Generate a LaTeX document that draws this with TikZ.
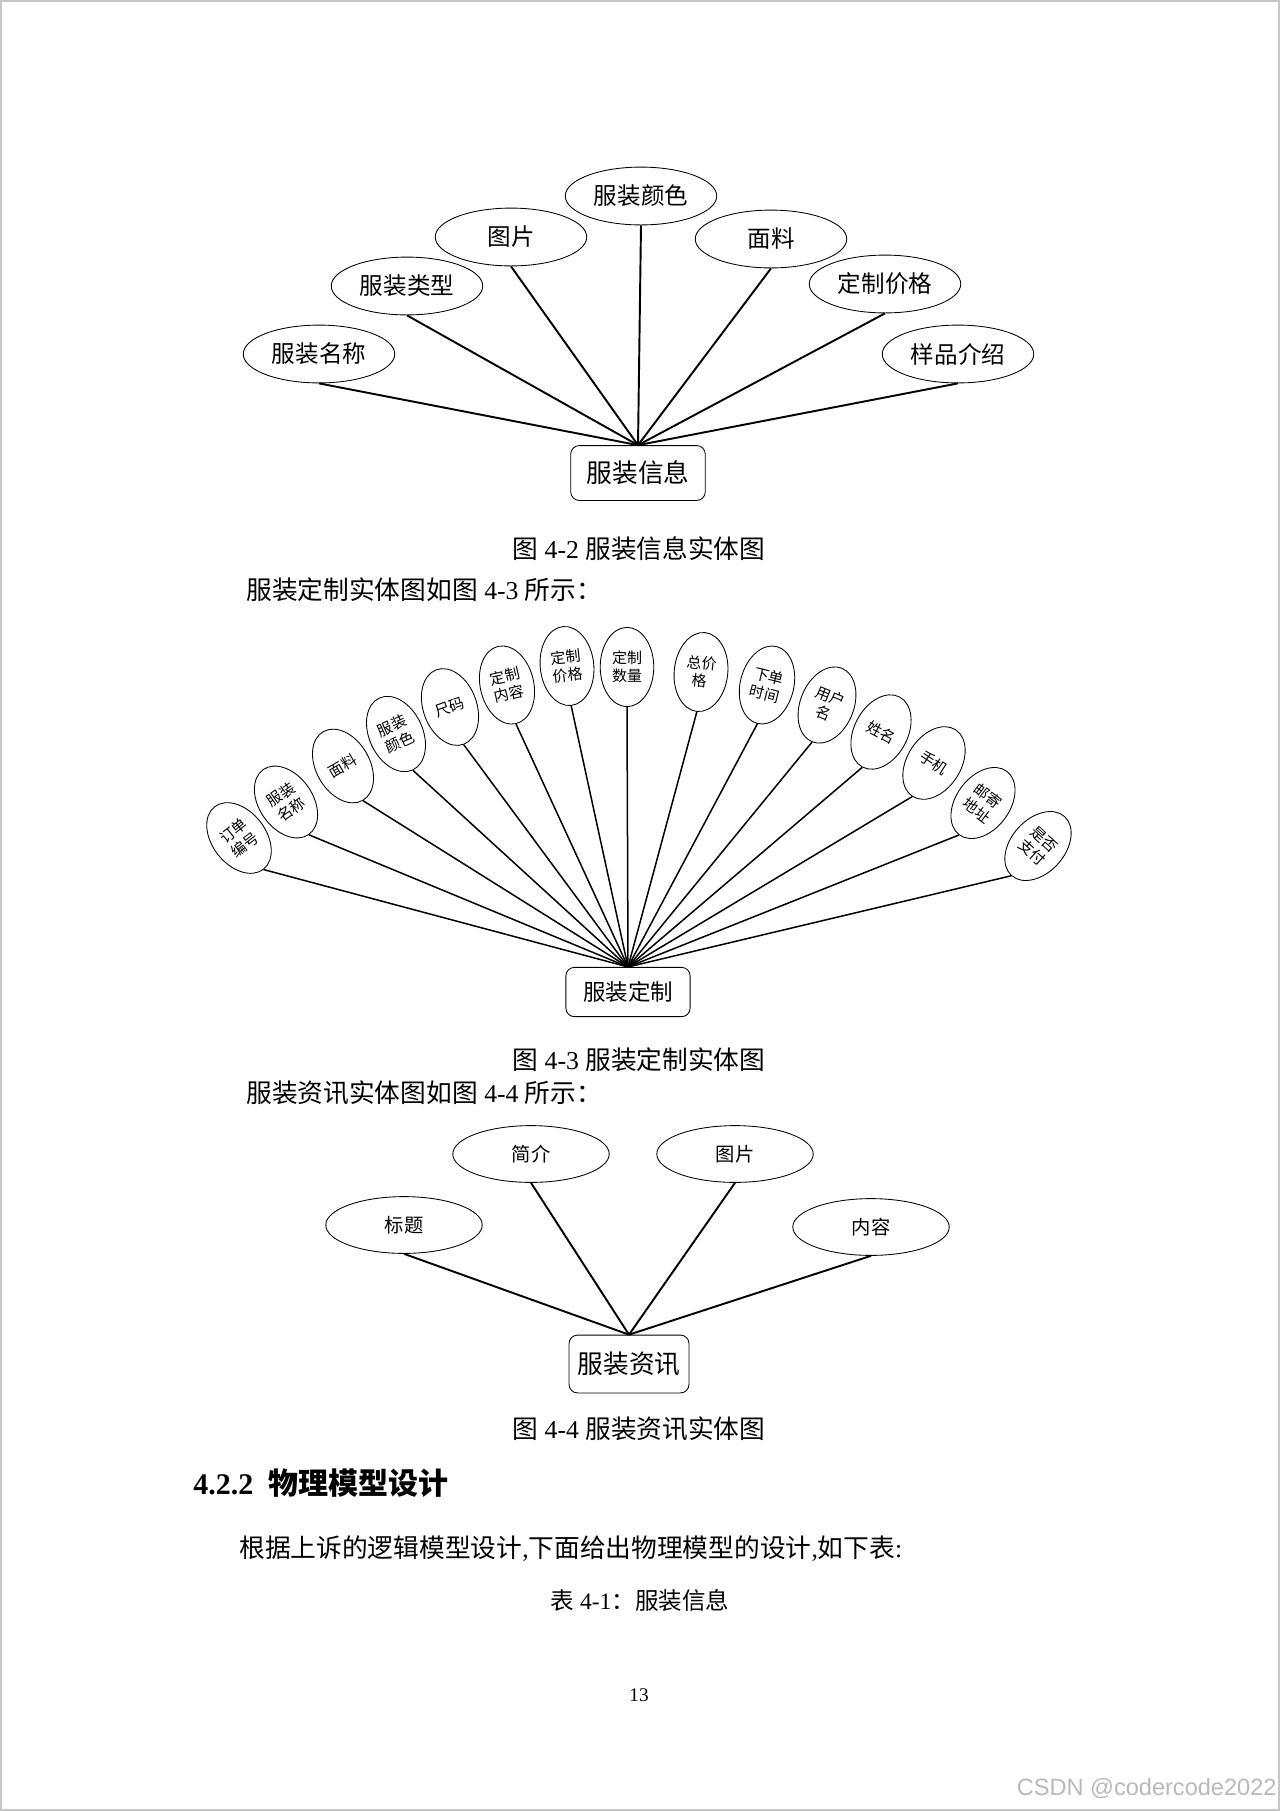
\documentclass[tikz,border=0pt]{standalone}
\usepackage{fontspec}
\setmainfont{Liberation Serif}
\newfontfamily\cjk{Noto Sans CJK SC}
\newfontfamily\wmfont{Liberation Sans}
\usetikzlibrary{shapes.geometric}

\begin{document}
\begin{tikzpicture}[
  x=0.01640625cm, y=-0.01640625cm,
  attr/.style={ellipse, draw, fill=white, minimum width=70.7pt, minimum height=27pt, inner sep=0pt, font=\cjk\fontsize{11}{13}\selectfont},
  fanattr/.style={ellipse, draw, fill=white, minimum width=25pt, minimum height=37pt, inner sep=0pt, align=center, font=\cjk\fontsize{7}{8.5}\selectfont},
  newsattr/.style={ellipse, draw, fill=white, minimum width=73pt, minimum height=26.5pt, inner sep=0pt, font=\cjk\fontsize{9}{11}\selectfont},
  entity/.style={draw, rounded corners=4pt, fill=white, inner sep=0pt},
  link/.style={line width=0.9pt},
  fanlink/.style={line width=0.7pt},
  caption/.style={font=\fontsize{12}{14}\selectfont},
  body/.style={font=\fontsize{12}{14}\selectfont, anchor=west, inner sep=0pt}
]
  \useasboundingbox (0,0) rectangle (1280,1811);
  \draw[gray!45, line width=0.5pt] (1,1) rectangle (1279,1810);

  % figure 4-2
  \node[entity, minimum width=62.8pt, minimum height=25.6pt, font=\cjk\fontsize{12}{14}\selectfont] (info) at (638,473) {服装信息};
  \node[attr] (iname)  at (319,354) {服装名称};
  \node[attr] (itype)  at (407,286) {服装类型};
  \node[attr] (ipic)   at (511,237) {图片};
  \node[attr] (icolor) at (641,196) {服装颜色};
  \node[attr] (ifab)   at (771,239) {面料};
  \node[attr] (iprice) at (885,284) {定制价格};
  \node[attr] (isamp)  at (958,354) {样品介绍};

  \draw[link] (iname.south)  -- (info.north);
  \draw[link] (itype.south)  -- (info.north);
  \draw[link] (ipic.south)   -- (info.north);
  \draw[link] (icolor.south) -- (info.north);
  \draw[link] (ifab.south)   -- (info.north);
  \draw[link] (iprice.south) -- (info.north);
  \draw[link] (isamp.south)  -- (info.north);

  \node[caption] (cap1) at (639,549) {{\cjk 图} 4-2 {\cjk 服装信息实体图}};
  \node[body] (txt1) at (246,590) {{\cjk 服装定制实体图如图} 4-3 {\cjk 所示：}};

  % figure 4-3
  \node[entity, minimum width=58pt, minimum height=23pt, font=\cjk\fontsize{10.5}{12}\selectfont] (order) at (628,992) {服装定制};
  \node[fanattr, rotate=38]  (oid)    at (239,838)  {订单\\编号};
  \node[fanattr, rotate=35]  (oname)  at (286,802)  {服装\\名称};
  \node[fanattr, rotate=30]  (ofab)   at (343,766)  {面料};
  \node[fanattr, rotate=25]  (ocolor) at (396,734)  {服装\\颜色};
  \node[fanattr, rotate=20]  (osize)  at (450,707)  {尺码};
  \node[fanattr, rotate=13]  (ocont)  at (507,685)  {定制\\内容};
  \node[fanattr, rotate=6]   (oprice) at (567,666)  {定制\\价格};
  \node[fanattr]             (onum)   at (627,667)  {定制\\数量};
  \node[fanattr, rotate=-6]  (ototal) at (701,672)  {总价\\格};
  \node[fanattr, rotate=-14] (otime)  at (767,685)  {下单\\时间};
  \node[fanattr, rotate=-22] (ouser)  at (827,705)  {用户\\名};
  \node[fanattr, rotate=-28] (oreal)  at (881,732)  {姓名};
  \node[fanattr, rotate=-33] (ophone) at (934,763)  {手机};
  \node[fanattr, rotate=-37] (oaddr)  at (983,803)  {邮寄\\地址};
  \node[fanattr, rotate=-42] (opaid)  at (1038,846) {是否\\支付};

  \draw[fanlink] (oid.south)    -- (order.north);
  \draw[fanlink] (oname.south)  -- (order.north);
  \draw[fanlink] (ofab.south)   -- (order.north);
  \draw[fanlink] (ocolor.south) -- (order.north);
  \draw[fanlink] (osize.south)  -- (order.north);
  \draw[fanlink] (ocont.south)  -- (order.north);
  \draw[fanlink] (oprice.south) -- (order.north);
  \draw[fanlink] (onum.south)   -- (order.north);
  \draw[fanlink] (ototal.south) -- (order.north);
  \draw[fanlink] (otime.south)  -- (order.north);
  \draw[fanlink] (ouser.south)  -- (order.north);
  \draw[fanlink] (oreal.south)  -- (order.north);
  \draw[fanlink] (ophone.south) -- (order.north);
  \draw[fanlink] (oaddr.south)  -- (order.north);
  \draw[fanlink] (opaid.south)  -- (order.north);

  \node[caption] (cap2) at (639,1060) {{\cjk 图} 4-3 {\cjk 服装定制实体图}};
  \node[body] (txt2) at (246,1093) {{\cjk 服装资讯实体图如图} 4-4 {\cjk 所示：}};

  % figure 4-4
  \node[entity, minimum width=56pt, minimum height=27pt, font=\cjk\fontsize{12}{14}\selectfont] (news) at (629,1364) {服装资讯};
  \node[newsattr] (ntitle) at (404,1225) {标题};
  \node[newsattr] (nintro) at (531,1154) {简介};
  \node[newsattr] (npic)   at (735,1154) {图片};
  \node[newsattr] (ncont)  at (871,1227) {内容};

  \draw[link] (ntitle.south) -- (news.north);
  \draw[link] (nintro.south) -- (news.north);
  \draw[link] (npic.south)   -- (news.north);
  \draw[link] (ncont.south)  -- (news.north);

  \node[caption] (cap3) at (639,1429) {{\cjk 图} 4-4 {\cjk 服装资讯实体图}};

  % section text
  \node[anchor=west, inner sep=0pt, font=\fontsize{14}{16}\selectfont\bfseries] (sec) at (193,1483) {4.2.2\ \ {\cjk 物理模型设计}};
  \node[body] (txt3) at (239,1549) {{\cjk 根据上诉的逻辑模型设计},{\cjk 下面给出物理模型的设计},{\cjk 如下表}:};
  \node[font=\fontsize{11}{13}\selectfont] (tab) at (640,1600) {{\cjk 表} 4-1{\cjk ：服装信息}};
  \node[font=\fontsize{9}{11}\selectfont] (page) at (639,1695) {13};
  \node[anchor=east, inner sep=0pt, text=gray!55, font=\wmfont\fontsize{11}{13}\selectfont] (mark) at (1277,1789) {CSDN @codercode2022};
\end{tikzpicture}
\end{document}
